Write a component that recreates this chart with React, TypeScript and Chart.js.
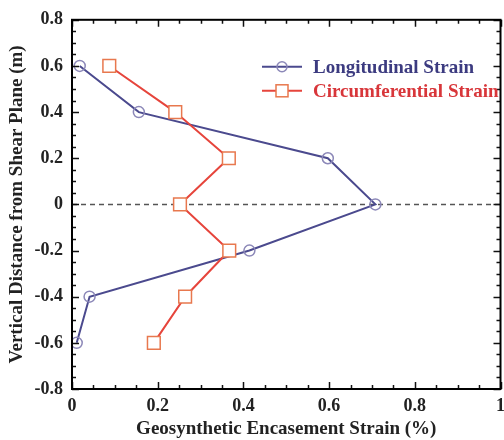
import React, { useEffect, useRef } from "react";
import { Chart, registerables } from "chart.js";

Chart.register(...registerables);

const depths = [0.6, 0.4, 0.2, 0, -0.2, -0.4, -0.6];
const longitudinalStrain = [0.018, 0.156, 0.597, 0.708, 0.414, 0.041, 0.011];
const circumferentialStrain = [0.087, 0.241, 0.366, 0.252, 0.367, 0.264, 0.191];
const shearPlaneX = [0, 1.0];
const shearPlaneY = [0, 0];
const seriesNames = ["Longitudinal Strain", "Circumferential Strain"];
const xTitle = "Geosynthetic Encasement Strain (%)";
const yTitle = "Vertical Distance from Shear Plane (m)";

const FONT = "'Liberation Serif', 'Times New Roman', serif";
const LONG_LINE = "#4b4a8e";
const LONG_MARK = "#8c88b8";
const LONG_TEXT = "#3c3b80";
const CIRC_LINE = "#e6453c";
const CIRC_MARK = "#e8784e";
const CIRC_TEXT = "#d8363a";

const fmt = (v: number) => {
  if (Math.abs(v) < 1e-9) return "0";
  if (Math.abs(v - Math.round(v)) < 1e-9) return String(Math.round(v));
  return v.toFixed(1);
};

const frameTicksPlugin = {
  id: "frameTicks",
  afterDraw(chart: any) {
    const { ctx, chartArea } = chart;
    const xs = chart.scales.x;
    const ys = chart.scales.y;
    const { left, right, top, bottom } = chartArea;
    ctx.save();
    ctx.strokeStyle = "#111";
    ctx.lineWidth = 1.5;
    const step = 0.05;
    for (let i = 0; i <= 20; i++) {
      const v = xs.min + i * step;
      if (v > xs.max + 1e-9) break;
      const major = i % 4 === 0;
      const len = major ? 7 : 4;
      const px = Math.round(xs.getPixelForValue(v)) + 0.5;
      ctx.beginPath();
      ctx.moveTo(px, bottom);
      ctx.lineTo(px, bottom - len);
      ctx.moveTo(px, top);
      ctx.lineTo(px, top + len);
      ctx.stroke();
    }
    for (let i = 0; i <= 32; i++) {
      const v = ys.min + i * step;
      const major = i % 4 === 0;
      const len = major ? 7 : 4;
      const py = Math.round(ys.getPixelForValue(v)) + 0.5;
      ctx.beginPath();
      ctx.moveTo(left, py);
      ctx.lineTo(left + len, py);
      ctx.moveTo(right, py);
      ctx.lineTo(right - len, py);
      ctx.stroke();
    }
    ctx.lineWidth = 2;
    ctx.strokeStyle = "#000";
    ctx.strokeRect(left, top, right - left, bottom - top);

    // legend
    const lx = left + 190;
    const rows = [
      { y: top + 47, line: LONG_LINE, mark: LONG_MARK, text: LONG_TEXT, shape: "circle", label: seriesNames[0] },
      { y: top + 71, line: CIRC_LINE, mark: CIRC_MARK, text: CIRC_TEXT, shape: "rect", label: seriesNames[1] },
    ];
    rows.forEach((r) => {
      ctx.strokeStyle = r.line;
      ctx.lineWidth = 2;
      ctx.beginPath();
      ctx.moveTo(lx, r.y);
      ctx.lineTo(lx + 40, r.y);
      ctx.stroke();
      ctx.strokeStyle = r.mark;
      ctx.lineWidth = 1.5;
      if (r.shape === "circle") {
        ctx.beginPath();
        ctx.arc(lx + 20, r.y, 5, 0, Math.PI * 2);
        ctx.stroke();
      } else {
        ctx.fillStyle = "#fff";
        ctx.fillRect(lx + 14, r.y - 6, 12, 12);
        ctx.strokeRect(lx + 14, r.y - 6, 12, 12);
      }
      ctx.fillStyle = r.text;
      ctx.font = `bold 19px ${FONT}`;
      ctx.textAlign = "left";
      ctx.textBaseline = "middle";
      ctx.fillText(r.label, lx + 51, r.y + 1);
    });
    ctx.restore();
  },
};

export default function App() {
  const ref = useRef<HTMLCanvasElement | null>(null);
  useEffect(() => {
    if (!ref.current) return;
    const chart = new Chart(ref.current, {
      type: "line",
      data: {
        datasets: [
          {
            label: "shear plane",
            data: shearPlaneX.map((x, i) => ({ x, y: shearPlaneY[i] })),
            borderColor: "#555",
            borderWidth: 1.5,
            borderDash: [5, 4],
            pointRadius: 0,
            order: 3,
          },
          {
            label: seriesNames[0],
            data: depths.map((y, i) => ({ x: longitudinalStrain[i], y })),
            borderColor: LONG_LINE,
            borderWidth: 2,
            pointStyle: "circle",
            pointRadius: 5.5,
            pointBorderColor: LONG_MARK,
            pointBackgroundColor: "rgba(255,255,255,0)",
            pointBorderWidth: 1.5,
            order: 2,
          },
          {
            label: seriesNames[1],
            data: depths.map((y, i) => ({ x: circumferentialStrain[i], y })),
            borderColor: CIRC_LINE,
            borderWidth: 2,
            pointStyle: "rect",
            pointRadius: 9,
            pointBorderColor: CIRC_MARK,
            pointBackgroundColor: "#fff",
            pointBorderWidth: 1.5,
            order: 1,
          },
        ],
      },
      options: {
        animation: false,
        responsive: false,
        maintainAspectRatio: false,
        layout: { padding: { top: 16, right: 5, left: 0, bottom: 0 } },
        plugins: { legend: { display: false }, tooltip: { enabled: false } },
        scales: {
          x: {
            type: "linear",
            min: 0,
            max: 1.0,
            grid: { display: false, drawTicks: false },
            border: { display: false },
            ticks: {
              stepSize: 0.2,
              padding: 7,
              color: "#222",
              font: { family: FONT, size: 18, weight: "bold" },
              callback: (v: any) => fmt(Number(v)),
              maxRotation: 0,
            },
            title: {
              display: true,
              text: xTitle,
              color: "#222",
              font: { family: FONT, size: 19, weight: "bold" },
              padding: { top: 0, bottom: 0 },
            },
            afterFit: (s: any) => {
              s.height = 51;
            },
          },
          y: {
            type: "linear",
            min: -0.8,
            max: 0.8,
            grid: { display: false, drawTicks: false },
            border: { display: false },
            ticks: {
              stepSize: 0.2,
              padding: 9,
              color: "#222",
              font: { family: FONT, size: 18, weight: "bold" },
              callback: (v: any) => fmt(Number(v)),
            },
            title: {
              display: true,
              text: yTitle,
              color: "#222",
              font: { family: FONT, size: 19, weight: "bold" },
              padding: { top: 6, bottom: 0 },
            },
            afterFit: (s: any) => {
              s.width = 72;
            },
          },
        },
      },
      plugins: [frameTicksPlugin],
    } as any);
    return () => chart.destroy();
  }, []);
  return (
    <div style={{ position: "fixed", left: 0, top: 0, width: 512, height: 440, background: "#fff" }}>
      <canvas ref={ref} width={512} height={440} style={{ width: 512, height: 440, display: "block" }} />
    </div>
  );
}
